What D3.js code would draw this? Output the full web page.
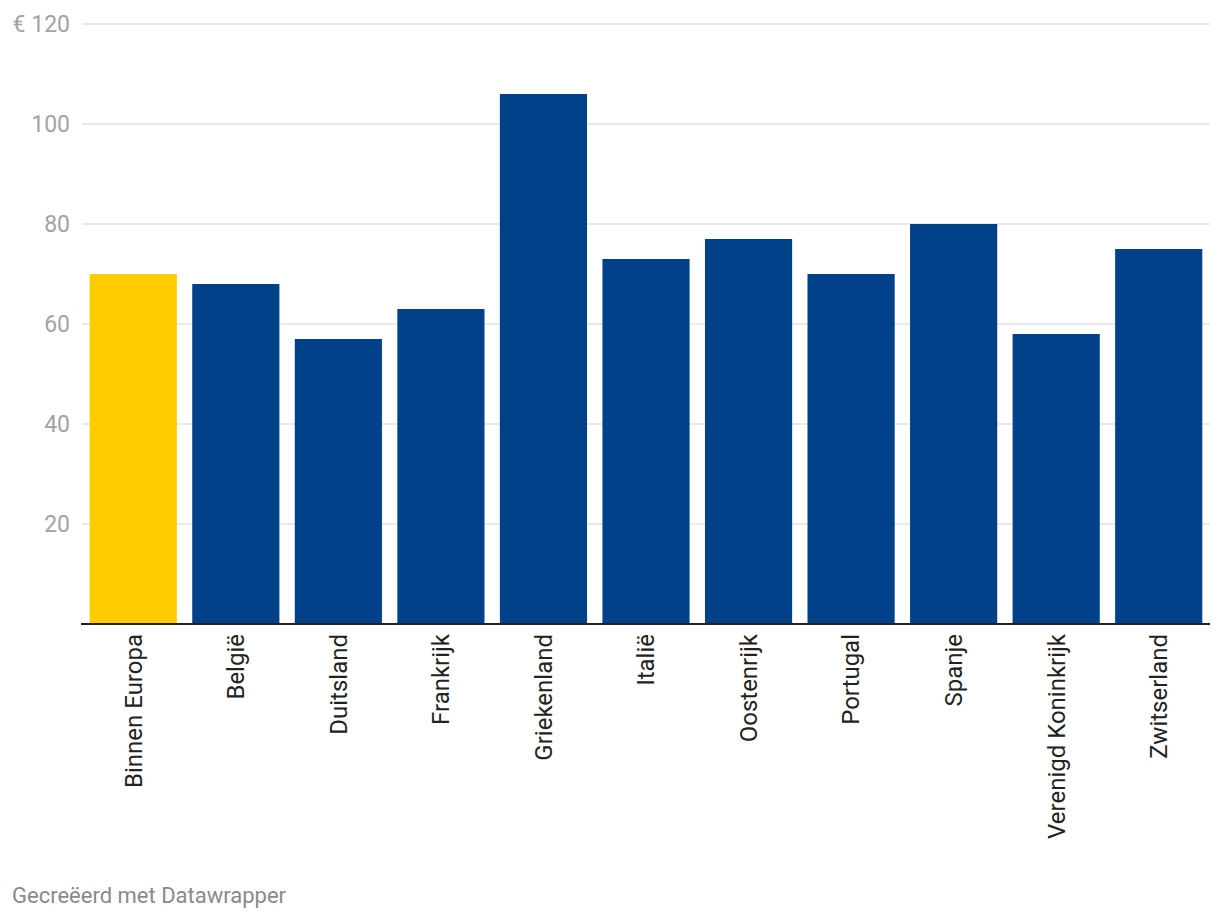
<!DOCTYPE html>
<html>
<head>
<meta charset="utf-8">
<script src="https://cdn.jsdelivr.net/npm/d3@7"></script>
<style>
  body { margin: 0; background: #fff; font-family: Roboto, "Noto Sans", sans-serif; }
</style>
</head>
<body>
<svg id="chart" width="1220" height="922"></svg>
<script>
// Data
var categories = ["Binnen Europa", "België", "Duitsland", "Frankrijk", "Griekenland", "Italië",
                  "Oostenrijk", "Portugal", "Spanje", "Verenigd Koninkrijk", "Zwitserland"];
var values = [70, 68, 57, 63, 106, 73, 77, 70, 80, 58, 75];
var yTicks = [20, 40, 60, 80, 100, 120];
var highlight = "Binnen Europa";

var svg = d3.select("#chart");

var margin = {left: 82, right: 10, top: 24, bottom: 298};
var width = 1220 - margin.left - margin.right,
    height = 922 - margin.top - margin.bottom;

var x = d3.scaleBand()
    .domain(categories)
    .range([margin.left, margin.left + width])
    .paddingInner(0.15)
    .paddingOuter(0.075);

var y = d3.scaleLinear()
    .domain([0, 120])
    .range([margin.top + height, margin.top]);

// Gridlines
svg.append("g")
    .selectAll("line")
    .data(yTicks)
    .enter().append("line")
    .attr("x1", margin.left)
    .attr("x2", margin.left + width)
    .attr("y1", d => y(d))
    .attr("y2", d => y(d))
    .style("stroke", "#e3e3e3")
    .style("stroke-width", 1.5);

// Y labels
svg.append("g")
    .selectAll("text")
    .data(yTicks)
    .enter().append("text")
    .attr("x", 70)
    .attr("y", d => y(d))
    .attr("dy", "0.35em")
    .attr("text-anchor", "end")
    .style("font-size", "23px")
    .style("fill", "#a3a3a3")
    .text(d => d === 120 ? "€ " + d : d);

// Bars
svg.append("g")
    .selectAll("rect")
    .data(categories)
    .enter().append("rect")
    .attr("x", d => x(d))
    .attr("width", x.bandwidth())
    .attr("y", (d, i) => y(values[i]))
    .attr("height", (d, i) => y(0) - y(values[i]))
    .style("fill", d => d === highlight ? "#ffcc00" : "#00418a");

// Baseline
svg.append("line")
    .attr("x1", margin.left - 1)
    .attr("x2", margin.left + width)
    .attr("y1", y(0))
    .attr("y2", y(0))
    .style("stroke", "#222")
    .style("stroke-width", 2);

// Category labels, rotated
svg.append("g")
    .selectAll("text")
    .data(categories)
    .enter().append("text")
    .attr("transform", d => "translate(" + (x(d) + x.bandwidth() / 2) + "," + (y(0) + 10) + ") rotate(-90)")
    .attr("dy", "0.35em")
    .attr("text-anchor", "end")
    .style("font-size", "24px")
    .style("fill", "#222")
    .text(d => d);

// Footer
svg.append("text")
    .attr("x", 12)
    .attr("y", 903)
    .style("font-size", "22px")
    .style("fill", "#8a8a8a")
    .text("Gecreëerd met Datawrapper");
</script>
</body>
</html>
